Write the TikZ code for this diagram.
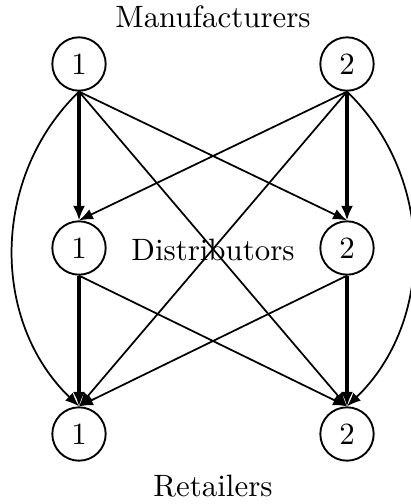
\documentclass[tikz,border=0pt]{standalone}
\usetikzlibrary{arrows.meta}
\begin{document}
\begin{tikzpicture}[x=0.3448pt,y=-0.3448pt,
  party/.style={draw,circle,line width=0.65pt,minimum size=18.4pt,inner sep=0pt,font=\fontsize{10.65}{12}\selectfont},
  lbl/.style={inner sep=0pt,font=\fontsize{10.65}{12}\selectfont},
  thinedge/.style={line width=0.6pt,-{Latex[length=4.8pt,width=3.8pt]}},
  thickedge/.style={line width=1.2pt,-{Latex[length=5pt,width=4.2pt]}}]
\useasboundingbox (0,0) rectangle (410,504);
\node[lbl] (mlab) at (213,17) {Manufacturers};
\node[party] (m1) at (79,64) {1};
\node[party] (m2) at (347,64) {2};
\node[party] (d1) at (79,248) {1};
\node[party] (d2) at (347,248) {2};
\node[party] (r1) at (79,434) {1};
\node[party] (r2) at (347,434) {2};
\node[lbl] (dlab) at (213,250) {Distributors};
\node[lbl] (rlab) at (213,486) {Retailers};
% manufacturers -> distributors
\draw[thickedge] (m1.south) -- (d1.north);
\draw[thickedge] (m2.south) -- (d2.north);
\draw[thinedge] (m1.south) -- (d2.north);
\draw[thinedge] (m2.south) -- (d1.north);
% distributors -> retailers
\draw[thickedge] (d1.south) -- (r1.north);
\draw[thickedge] (d2.south) -- (r2.north);
\draw[thinedge] (d1.south) -- (r2.north);
\draw[thinedge] (d2.south) -- (r1.north);
% manufacturers -> retailers directly
\draw[thinedge] (m1.south) -- (r2.north);
\draw[thinedge] (m2.south) -- (r1.north);
\draw[thinedge] (m1.south) to[out=-136,in=136] (r1.north);
\draw[thinedge] (m2.south) to[out=-44,in=44] (r2.north);
\end{tikzpicture}
\end{document}
